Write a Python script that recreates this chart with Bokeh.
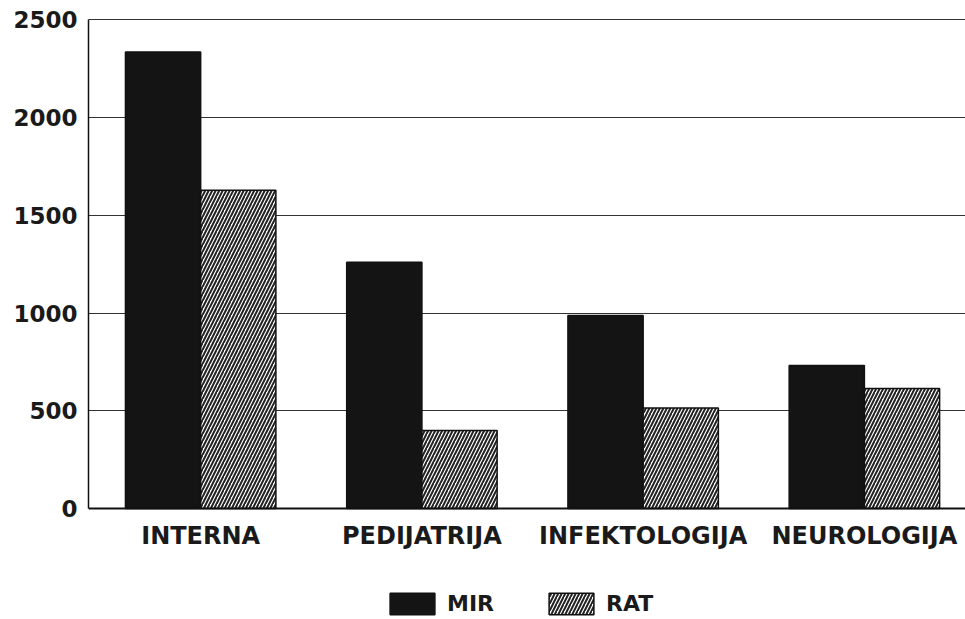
from bokeh.plotting import figure
from bokeh.models import Range1d, FixedTicker, Legend, LegendItem, ColumnDataSource
from bokeh.embed import file_html
from bokeh.resources import INLINE

categories = ["INTERNA", "PEDIJATRIJA", "INFEKTOLOGIJA", "NEUROLOGIJA"]
mir = [2335, 1260, 988, 732]
rat = [1628, 400, 515, 614]
y_ticks = [0, 500, 1000, 1500, 2000, 2500]

xs = list(range(len(categories)))
bar_w = 0.34

# frame runs to the bottom of the canvas so the legend can sit inside it
p = figure(width=965, height=619, output_backend="svg", toolbar_location=None,
           x_range=Range1d(-0.507, 3.457), y_range=Range1d(-567, 2506),
           min_border_left=88, min_border_right=0, min_border_top=18, min_border_bottom=0)
p.outline_line_color = None
p.background_fill_color = "white"

src_mir = ColumnDataSource(dict(x=[x - bar_w / 2 for x in xs], top=mir))
src_rat = ColumnDataSource(dict(x=[x + bar_w / 2 for x in xs], top=rat))

r_mir = p.vbar(x="x", top="top", width=bar_w, bottom=0, source=src_mir,
               fill_color="#141414", line_color="#111111", line_width=1.5)
r_rat = p.vbar(x="x", top="top", width=bar_w, bottom=0, source=src_rat,
               fill_color="white", line_color="#111111", line_width=1.5,
               hatch_pattern="/", hatch_color="#222222", hatch_scale=7, hatch_weight=2)

# grid
p.xgrid.grid_line_color = None
p.ygrid.ticker = FixedTicker(ticks=y_ticks)
p.ygrid.grid_line_color = "#333333"
p.ygrid.grid_line_width = 1.2
p.ygrid.level = "underlay"

# axes
p.yaxis.ticker = FixedTicker(ticks=y_ticks)
p.yaxis.bounds = (0, 2500)
p.yaxis.major_tick_out = 0
p.yaxis.major_tick_in = 0
p.yaxis.minor_tick_out = 0
p.yaxis.minor_tick_in = 0
p.yaxis.major_label_standoff = 11
p.yaxis.axis_line_color = "#111111"
p.yaxis.axis_line_width = 1.5
p.yaxis.major_label_text_font = "DejaVu Sans"
p.yaxis.major_label_text_font_style = "bold"
p.yaxis.major_label_text_font_size = "23px"
p.yaxis.major_label_text_color = "#1a1a1a"

p.xaxis.fixed_location = 0
p.xaxis.ticker = FixedTicker(ticks=xs)
p.xaxis.major_label_overrides = {i: c for i, c in enumerate(categories)}
p.xaxis.major_tick_out = 0
p.xaxis.major_tick_in = 0
p.xaxis.minor_tick_out = 0
p.xaxis.minor_tick_in = 0
p.xaxis.major_label_standoff = 13
p.xaxis.axis_line_color = "#111111"
p.xaxis.axis_line_width = 2
p.xaxis.major_label_text_font = "DejaVu Sans"
p.xaxis.major_label_text_font_style = "bold"
p.xaxis.major_label_text_font_size = "24px"
p.xaxis.major_label_text_color = "#1a1a1a"

legend = Legend(items=[LegendItem(label="MIR", renderers=[r_mir]),
                       LegendItem(label="RAT", renderers=[r_rat])],
                location=(296, 2), orientation="horizontal",
                glyph_width=56, glyph_height=27, label_standoff=7, spacing=49,
                padding=0, margin=0, border_line_color=None, background_fill_alpha=0,
                label_text_font="DejaVu Sans", label_text_font_style="bold",
                label_text_font_size="22px", label_text_color="#1a1a1a")
p.add_layout(legend, "center")

open("out.html", "w").write(file_html(p, INLINE))
